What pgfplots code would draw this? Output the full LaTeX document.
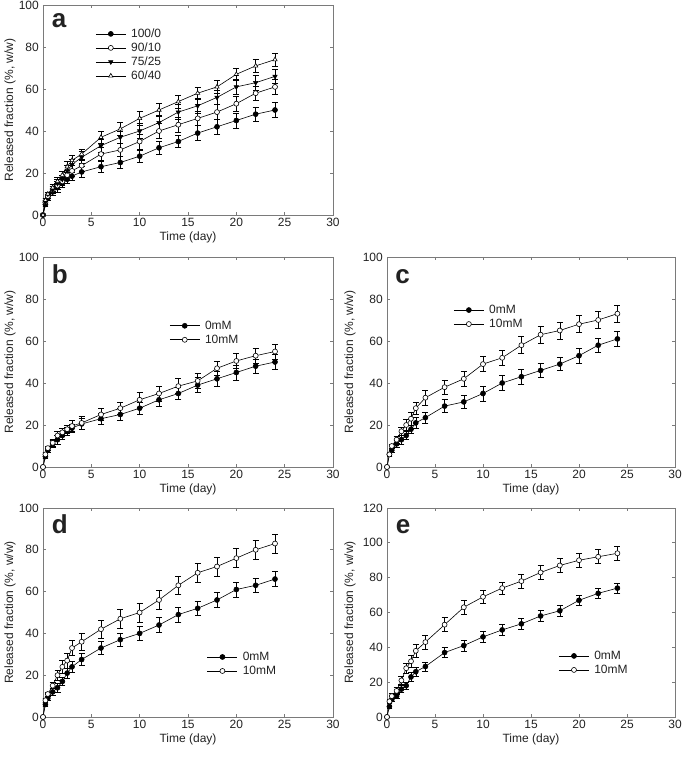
\documentclass[border=0pt]{standalone}
\usepackage{fontspec}
\setmainfont{Liberation Sans}
\usepackage{pgfplots}
\usepackage{pgfplotstable}
\pgfplotsset{compat=1.18}
\definecolor{txt}{HTML}{222222}
\definecolor{frm}{HTML}{7A7A7A}

\pgfplotstableread{
x    a1   e1   a2   e2   a3   e3   a4   e4
0    0    0    0    0    0    0    0    0
0.25 5    1    6    1    6    1    7    1
0.5  8    1    9    1    10   1    10   1
1    11   1.5  12   1.5  12   1.5  13   1.5
1.5  13   2    14   2    15   2    16   2
2    15   2    16   2    17   2    19   2
2.5  17   2    19   2.5  21   2.5  23   2.5
3    18.5 2    21   2.5  24   2.5  26   2.5
4    20.5 2.5  23.5 2.5  27.5 3    29   2.5
6    23   2.5  29   3    33   3    37   3
8    25   3    31   3    37   3    41   3
10   28   3    35   3.5  40   3.5  46   3.5
12   32   3    40   3.5  44   3.5  50   3
14   35   3    43   3.5  49   3.5  54   3
16   39   3.5  46   3.5  52   3.5  58   3
18   42   3.5  49   3.5  56   3.5  61   3
20   45   3.5  53   3.5  61   3.5  67   3
22   48   3.5  58   3.5  63   3.5  71   3
24   50   3.5  61   3.5  66   3.5  74   3
}\tabA

\pgfplotstableread{
x    y0   e0   y1   e1
0    0    0    0    0
0.25 5    1    6    1
0.5  8    1    9    1
1    11   1.5  11.5 1.5
1.5  13   2    15   2
2    15   2    16.5 2
2.5  17   2    18   2
3    18.5 2    19.5 2.5
4    20.5 2.5  21   3
6    23   2.5  25   3
8    25   3    28   3
10   28   3    32   3.5
12   32   3    35   3.5
14   35   3    38.5 3.5
16   39   3.5  41   3.5
18   42   3.5  47   3.5
20   45   3.5  50.5 3.5
22   48   3.5  53   3.5
24   50   3.5  55   3.5
}\tabB

\pgfplotstableread{
x    y0   e0   y1   e1
0    0    0    0    0
0.25 6    1    6    1
0.5  8    1    10   1
1    11   1.5  13   1.5
1.5  13   2    17   2
2    15   2    20   2.5
2.5  18   2    23   3
3    21   2.5  28   3
4    23.5 2.5  33   3.5
6    29   3    38   3.5
8    31   3    42   3.5
10   35   3.5  49   3.5
12   40   3.5  52   3.5
14   43   3.5  58   4
16   46   3.5  63   4
18   49   3    65   4
20   53   3.5  68   4
22   58   3.5  70   4
24   61   3.5  73   4
}\tabC

\pgfplotstableread{
x    y0   e0   y1   e1
0    0    0    0    0
0.25 6    1    8    1
0.5  9    1    11   1
1    12   1.5  15   1.5
1.5  14   2    20   2.5
2    17   2    24   3
2.5  21   2.5  27   3.5
3    24   2.5  33   3.5
4    27.5 3    36   4
6    33   3    42   4.5
8    37   3    47   4.5
10   40   3.5  50   4.5
12   44   3.5  56   4.5
14   49   3.5  63   4.5
16   52   3.5  69   4.5
18   56   3.5  72   4.5
20   61   3.5  76   4.5
22   63   3.5  80   4.5
24   66   3.5  83   4.5
}\tabD

\pgfplotstableread{
x    y0   e0   y1   e1
0    0    0    0    0
0.25 6    1    9    1
0.5  10   1    12   1.5
1    12   1.5  15   2
1.5  16   2    21   2.5
2    18   2    28   3
2.5  23   2.5  32   3.5
3    26   2.5  38   4
4    29   2.5  43   4
6    37   3    53   4
8    41   3    63   4
10   46   3    69   3.5
12   50   3    74   3.5
14   53.5 3    78   4
16   58   3    83   4
18   61   3    87   4
20   67   3    90   4
22   71   3    92   4
24   74   3    94   4
}\tabE

\pgfplotsset{
  rel/.style={
    scale only axis,
    xmin=0, xmax=30, ymin=0,
    xtick={0,5,...,30},
    tick align=inside,
    major tick length=3pt,
    axis line style={frm, line width=0.8pt},
    tick style={frm, line width=0.7pt},
    /pgf/number format/assume math mode=true,
    every tick label/.append style={font=\fontsize{12}{14}\selectfont, text=txt},
    xticklabel style={inner sep=1pt, yshift=-2pt},
    yticklabel style={inner sep=1pt, xshift=-3pt},
    label style={font=\fontsize{12}{14}\selectfont, text=txt},
    xlabel={Time (day)},
    ylabel={Released fraction (\%, w/w)},
    xlabel style={at={(axis description cs:0.5,-0.105)}, anchor=center},
    legend style={draw=none, fill=none, font=\fontsize{12}{14}\selectfont, text=txt,
      nodes={inner sep=1pt, text height=9pt, text depth=2.5pt}, row sep=0.5pt,
      /tikz/every odd column/.append style={column sep=4pt}},
    legend cell align=left,
    legend image code/.code={\draw[mark repeat=2,mark phase=2,##1] plot coordinates {(0pt,0pt)(15pt,0pt)(30pt,0pt)};},
    every axis plot/.append style={black, line width=0.6pt, mark size=2.5pt,
      error bars/y dir=both, error bars/y explicit,
      error bars/error bar style={line width=0.6pt, solid, black},
      error bars/error mark options={line width=0.6pt, mark size=3pt, rotate=90, black}},
  },
  fc/.style={black, mark=*, mark options={solid, draw=black, fill=black}},
  oc/.style={black, mark=*, mark options={solid, draw=black, fill=white}},
  ft/.style={black, mark=triangle*, mark options={solid, draw=black, fill=black, rotate=180}},
  ot/.style={black, mark=triangle*, mark options={solid, draw=black, fill=white}},
}

\begin{document}
\begin{tikzpicture}
\path[use as bounding box] (0pt,0pt) rectangle (685pt,757pt);

% panel a
\begin{axis}[rel, at={(43pt,542pt)}, anchor=south west, width=290pt, height=210pt,
  ymax=100, ytick={0,20,...,100},
  ylabel style={at={(axis description cs:-0.114,0.5)}, anchor=center},
  legend style={at={(0.17,0.905)}, anchor=north west}]
\addplot[fc] table[x=x, y=a1, y error=e1] {\tabA};
\addlegendentry{100/0}
\addplot[oc] table[x=x, y=a2, y error=e2] {\tabA};
\addlegendentry{90/10}
\addplot[ft] table[x=x, y=a3, y error=e3] {\tabA};
\addlegendentry{75/25}
\addplot[ot] table[x=x, y=a4, y error=e4] {\tabA};
\addlegendentry{60/40}
\node[anchor=base west, inner sep=0, font=\bfseries\fontsize{26}{26}\selectfont, text=txt] at (rel axis cs:0.03,0.895) {a};
\end{axis}

% panel b
\begin{axis}[rel, at={(43pt,290pt)}, anchor=south west, width=290pt, height=210pt,
  ymax=100, ytick={0,20,...,100},
  ylabel style={at={(axis description cs:-0.114,0.5)}, anchor=center},
  legend style={at={(0.425,0.715)}, anchor=north west}]
\addplot[fc] table[x=x, y=y0, y error=e0] {\tabB};
\addlegendentry{0mM}
\addplot[oc] table[x=x, y=y1, y error=e1] {\tabB};
\addlegendentry{10mM}
\node[anchor=base west, inner sep=0, font=\bfseries\fontsize{26}{26}\selectfont, text=txt] at (rel axis cs:0.03,0.876) {b};
\end{axis}

% panel c
\begin{axis}[rel, at={(387pt,290pt)}, anchor=south west, width=288pt, height=210pt,
  ymax=100, ytick={0,20,...,100},
  ylabel style={at={(axis description cs:-0.128,0.5)}, anchor=center},
  legend style={at={(0.22,0.79)}, anchor=north west}]
\addplot[fc] table[x=x, y=y0, y error=e0] {\tabC};
\addlegendentry{0mM}
\addplot[oc] table[x=x, y=y1, y error=e1] {\tabC};
\addlegendentry{10mM}
\node[anchor=base west, inner sep=0, font=\bfseries\fontsize{26}{26}\selectfont, text=txt] at (rel axis cs:0.028,0.876) {c};
\end{axis}

% panel d
\begin{axis}[rel, at={(43pt,40pt)}, anchor=south west, width=290pt, height=209pt,
  ymax=100, ytick={0,20,...,100},
  ylabel style={at={(axis description cs:-0.114,0.5)}, anchor=center},
  legend style={at={(0.555,0.33)}, anchor=north west}]
\addplot[fc] table[x=x, y=y0, y error=e0] {\tabD};
\addlegendentry{0mM}
\addplot[oc] table[x=x, y=y1, y error=e1] {\tabD};
\addlegendentry{10mM}
\node[anchor=base west, inner sep=0, font=\bfseries\fontsize{26}{26}\selectfont, text=txt] at (rel axis cs:0.03,0.88) {d};
\end{axis}

% panel e
\begin{axis}[rel, at={(387pt,40pt)}, anchor=south west, width=288pt, height=209pt,
  ymax=120, ytick={0,20,...,120},
  ylabel style={at={(axis description cs:-0.128,0.5)}, anchor=center},
  legend style={at={(0.585,0.335)}, anchor=north west}]
\addplot[fc] table[x=x, y=y0, y error=e0] {\tabE};
\addlegendentry{0mM}
\addplot[oc] table[x=x, y=y1, y error=e1] {\tabE};
\addlegendentry{10mM}
\node[anchor=base west, inner sep=0, font=\bfseries\fontsize{26}{26}\selectfont, text=txt] at (rel axis cs:0.03,0.88) {e};
\end{axis}
\end{tikzpicture}
\end{document}
